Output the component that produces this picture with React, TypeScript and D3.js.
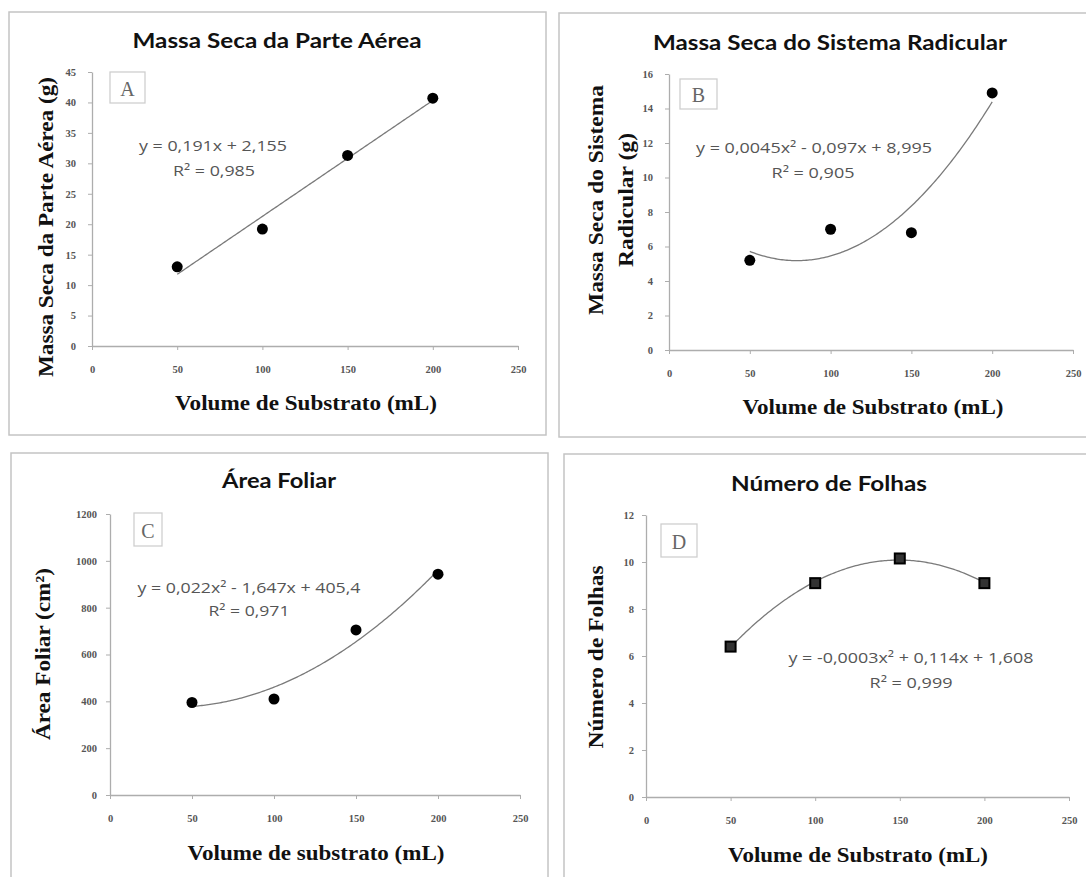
import React, { useEffect, useRef } from 'react';
import * as d3 from 'd3';

// valores
const volumes = [50, 100, 150, 200];
const xTicks = [0, 50, 100, 150, 200, 250];

const massaParteAerea = [13.0, 19.2, 31.3, 40.7];
const massaSistemaRadicular = [5.2, 7.0, 6.8, 14.9];
const areaFoliar = [395, 410, 705, 943];
const numeroFolhas = [6.4, 9.1, 10.15, 9.1];

const yTicksA = [0, 5, 10, 15, 20, 25, 30, 35, 40, 45];
const yTicksB = [0, 2, 4, 6, 8, 10, 12, 14, 16];
const yTicksC = [0, 200, 400, 600, 800, 1000, 1200];
const yTicksD = [0, 2, 4, 6, 8, 10, 12];

const titles = ['Massa Seca da Parte Aérea', 'Massa Seca do Sistema Radicular', 'Área Foliar', 'Número de Folhas'];
const equations = [
  ['y = 0,191x + 2,155', 'R² = 0,985'],
  ['y = 0,0045x² - 0,097x + 8,995', 'R² = 0,905'],
  ['y = 0,022x² - 1,647x + 405,4', 'R² = 0,971'],
  ['y = -0,0003x² + 0,114x + 1,608', 'R² = 0,999'],
];

// least squares polynomial, returns [c0, c1, c2...]
function polyFit(xs: number[], ys: number[], degree: number) {
  const n = degree + 1;
  const m: number[][] = [];
  for (let i = 0; i < n; i++) {
    m.push([]);
    for (let j = 0; j < n; j++) m[i].push(d3.sum(xs, x => Math.pow(x, i + j)));
    m[i].push(d3.sum(xs, (x, k) => Math.pow(x, i) * ys[k]));
  }
  for (let i = 0; i < n; i++) {
    for (let r = i + 1; r < n; r++) {
      const f = m[r][i] / m[i][i];
      for (let c = i; c <= n; c++) m[r][c] -= f * m[i][c];
    }
  }
  const coef = new Array(n).fill(0);
  for (let i = n - 1; i >= 0; i--) {
    let s = m[i][n];
    for (let j = i + 1; j < n; j++) s -= m[i][j] * coef[j];
    coef[i] = s / m[i][i];
  }
  return coef;
}

const panels = [
  {
    label: 'A', title: titles[0], eq: equations[0], values: massaParteAerea, yTicks: yTicksA, degree: 1, marker: 'circle',
    frame: [9, 12, 546, 435], xRange: [92, 518], yRange: [346, 72], yPad: 12,
    titlePos: [277, 40, 289],
    yTitle: [{ text: 'Massa Seca da Parte Aérea (g)', x: 46, w: 300 }], yTitleCy: 227,
    xTitle: ['Volume de Substrato (mL)', 306, 403, 262],
    eqPos: [213, 145, 148, 214, 170, 82],
    box: [110, 72, 35, 31],
  },
  {
    label: 'B', title: titles[1], eq: equations[1], values: massaSistemaRadicular, yTicks: yTicksB, degree: 2, marker: 'circle',
    frame: [559, 13, 1094, 437], xRange: [669, 1073], yRange: [350, 74], yPad: 12,
    titlePos: [830, 42, 354],
    yTitle: [{ text: 'Massa Seca do Sistema', x: 596, w: 230 }, { text: 'Radicular (g)', x: 626, w: 134 }], yTitleCy: 200,
    xTitle: ['Volume de Substrato (mL)', 873, 407, 261],
    eqPos: [814, 147, 236, 813, 172, 83],
    box: [680, 79, 37, 30],
  },
  {
    label: 'C', title: titles[2], eq: equations[2], values: areaFoliar, yTicks: yTicksC, degree: 2, marker: 'circle',
    frame: [11, 453, 548, 900], xRange: [110, 520], yRange: [795, 514], yPad: 9,
    titlePos: [279, 480, 114],
    yTitle: [{ text: 'Área Foliar (cm²)', x: 43, w: 172 }], yTitleCy: 654,
    xTitle: ['Volume de substrato (mL)', 316, 853, 257],
    eqPos: [249, 587, 223, 249, 610, 81],
    box: [134, 513, 28, 33],
  },
  {
    label: 'D', title: titles[3], eq: equations[3], values: numeroFolhas, yTicks: yTicksD, degree: 2, marker: 'square',
    frame: [564, 454, 1094, 900], xRange: [646, 1069], yRange: [797, 515], yPad: 8,
    titlePos: [829, 483, 196],
    yTitle: [{ text: 'Número de Folhas', x: 596, w: 183 }], yTitleCy: 657,
    xTitle: ['Volume de Substrato (mL)', 858, 855, 260],
    eqPos: [911, 657, 245, 911, 682, 83],
    box: [661, 524, 36, 33],
  },
];

export default function App() {
  const ref = useRef<SVGSVGElement>(null);

  useEffect(() => {
    const svg = d3.select(ref.current);
    svg.selectAll('*').remove();

    svg.append('rect').attr('width', 1086).attr('height', 877).attr('fill', '#fff');

    panels.forEach(p => {
      const g = svg.append('g');
      const [fx0, fy0, fx1, fy1] = p.frame;
      g.append('rect')
        .attr('x', fx0).attr('y', fy0)
        .attr('width', fx1 - fx0).attr('height', fy1 - fy0)
        .attr('fill', 'none').attr('stroke', '#c4c4c4').attr('stroke-width', 1.5);

      const x = d3.scaleLinear().domain([0, 250]).range(p.xRange);
      const y = d3.scaleLinear().domain([0, p.yTicks[p.yTicks.length - 1]]).range(p.yRange);

      const yAxis = g.append('g')
        .attr('transform', `translate(${p.xRange[0]},0)`)
        .call(d3.axisLeft(y).tickValues(p.yTicks).tickFormat(d3.format('d')).tickSize(4).tickSizeOuter(0).tickPadding(p.yPad));
      const xAxis = g.append('g')
        .attr('transform', `translate(0,${p.yRange[0]})`)
        .call(d3.axisBottom(x).tickValues(xTicks).tickFormat(d3.format('d')).tickSize(4).tickSizeOuter(0).tickPadding(16));

      [yAxis, xAxis].forEach(a => {
        a.select('.domain').attr('stroke', '#adadad').attr('stroke-width', 1.3);
        a.selectAll('.tick line').attr('stroke', '#adadad');
        a.selectAll('.tick text')
          .attr('fill', '#555')
          .style('font-family', '"Liberation Serif", serif')
          .style('font-weight', 'bold')
          .style('font-size', '10.5px');
      });

      // trend line
      const coef = polyFit(volumes, p.values, p.degree);
      const fit = (v: number) => coef.reduce((s, c, i) => s + c * Math.pow(v, i), 0);
      const xs = d3.range(volumes[0], volumes[volumes.length - 1] + 0.5, 1);
      g.append('path')
        .attr('d', d3.line<number>().x(v => x(v)).y(v => y(fit(v)))(xs))
        .attr('fill', 'none').attr('stroke', '#7a7a7a').attr('stroke-width', 1.3);

      // points
      if (p.marker === 'circle') {
        g.selectAll('circle.pt').data(p.values).enter().append('circle')
          .attr('class', 'pt')
          .attr('cx', (d, i) => x(volumes[i])).attr('cy', d => y(d))
          .attr('r', 5.5).attr('fill', '#000');
      } else {
        g.selectAll('rect.pt').data(p.values).enter().append('rect')
          .attr('class', 'pt')
          .attr('x', (d, i) => x(volumes[i]) - 5).attr('y', d => y(d) - 5)
          .attr('width', 10).attr('height', 10)
          .attr('fill', '#333').attr('stroke', '#000').attr('stroke-width', 2);
      }

      // title
      g.append('text')
        .attr('x', p.titlePos[0]).attr('y', p.titlePos[1])
        .attr('text-anchor', 'middle').attr('dominant-baseline', 'central')
        .attr('textLength', p.titlePos[2]).attr('lengthAdjust', 'spacingAndGlyphs')
        .style('font-family', 'Lato, "Open Sans", sans-serif').style('font-weight', 'bold').style('font-size', '20px')
        .attr('fill', '#111')
        .text(p.title);

      // y title
      p.yTitle.forEach(l => {
        g.append('text')
          .attr('transform', `translate(${l.x},${p.yTitleCy}) rotate(-90)`)
          .attr('text-anchor', 'middle').attr('dominant-baseline', 'central')
          .attr('textLength', l.w).attr('lengthAdjust', 'spacingAndGlyphs')
          .style('font-family', '"Liberation Serif", serif').style('font-weight', 'bold').style('font-size', '21px')
          .attr('fill', '#111')
          .text(l.text);
      });

      // x title
      g.append('text')
        .attr('x', p.xTitle[1]).attr('y', p.xTitle[2])
        .attr('text-anchor', 'middle').attr('dominant-baseline', 'central')
        .attr('textLength', p.xTitle[3]).attr('lengthAdjust', 'spacingAndGlyphs')
        .style('font-family', '"Liberation Serif", serif').style('font-weight', 'bold').style('font-size', '21px')
        .attr('fill', '#111')
        .text(p.xTitle[0] as string);

      // equation
      const e = p.eqPos;
      [[p.eq[0], e[0], e[1], e[2]], [p.eq[1], e[3], e[4], e[5]]].forEach(([t, ex, ey, ew]) => {
        g.append('text')
          .attr('x', ex).attr('y', ey)
          .attr('text-anchor', 'middle').attr('dominant-baseline', 'central')
          .attr('textLength', ew).attr('lengthAdjust', 'spacingAndGlyphs')
          .style('font-family', '"Open Sans", sans-serif').style('font-size', '15px')
          .attr('fill', '#555')
          .text(t as string);
      });

      // letter box
      const [bx, by, bw, bh] = p.box;
      g.append('rect')
        .attr('x', bx).attr('y', by).attr('width', bw).attr('height', bh)
        .attr('fill', '#fff').attr('stroke', '#cfcfcf').attr('stroke-width', 1.3);
      g.append('text')
        .attr('x', bx + bw / 2).attr('y', by + bh / 2 + 1)
        .attr('text-anchor', 'middle').attr('dominant-baseline', 'central')
        .style('font-family', '"Liberation Serif", serif').style('font-size', '20px')
        .attr('fill', '#666')
        .text(p.label);
    });
  }, []);

  return (
    <svg ref={ref} width={1086} height={877} style={{ position: 'absolute', left: 0, top: 0 }} />
  );
}
